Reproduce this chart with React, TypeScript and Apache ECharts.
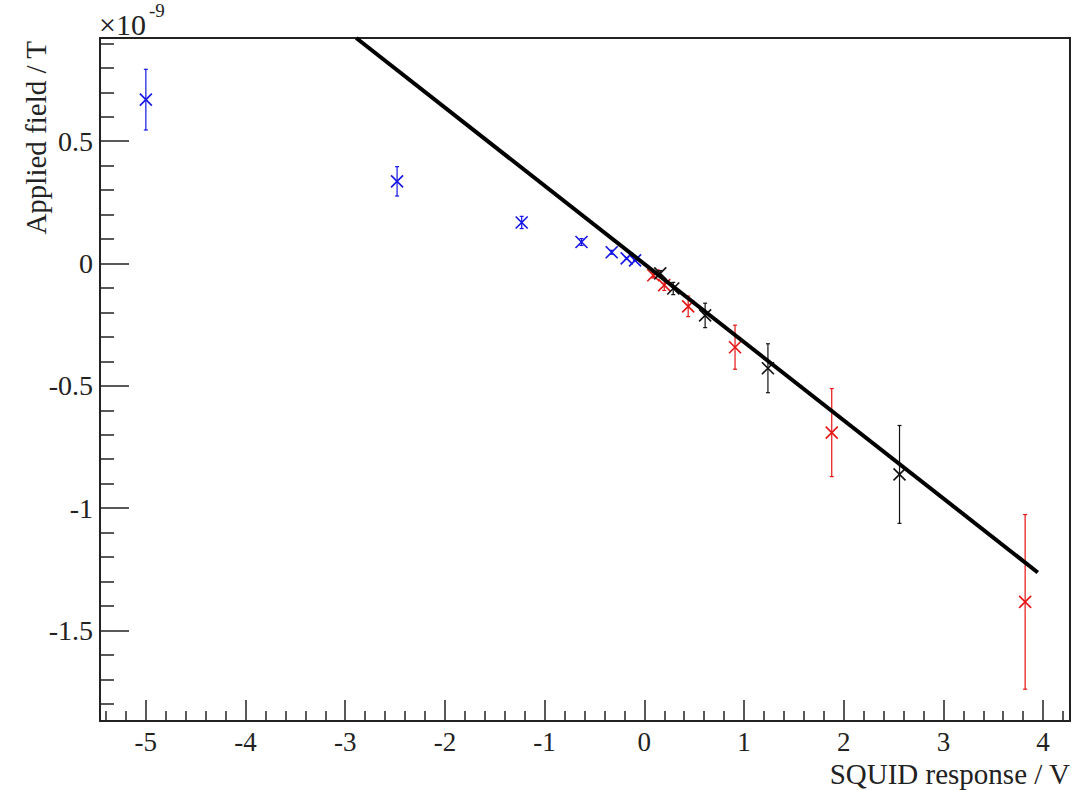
import React, { useEffect, useRef } from "react";
import * as echarts from "echarts";

// Values in units of 1e-9 T (y) and V (x)
const blueX = [-5.0, -2.48, -1.23, -0.63, -0.327, -0.177, -0.093];
const blueY = [0.67, 0.336, 0.168, 0.088, 0.046, 0.021, 0.013];
const blueErr = [0.124, 0.06, 0.025, 0.014, 0.008, 0.004, 0.002];

const redX = [0.09, 0.2, 0.44, 0.91, 1.88, 3.82];
const redY = [-0.048, -0.088, -0.175, -0.342, -0.691, -1.383];
const redErr = [0.011, 0.022, 0.042, 0.09, 0.18, 0.357];

const blackX = [0.16, 0.29, 0.61, 1.24, 2.56];
const blackY = [-0.04, -0.102, -0.212, -0.428, -0.862];
const blackErr = [0.011, 0.025, 0.05, 0.1, 0.2];

const fitX = [-2.89, 3.947];
const fitY = [0.922, -1.263];

const xMin = -5.46;
const xMax = 4.27;
const yMin = -1.87;
const yMax = 0.922;

const FONT = "Liberation Serif";

function makeErrSeries(name: string, xs: number[], ys: number[], es: number[], color: string) {
  return {
    name,
    type: "custom",
    data: xs.map((x, i) => [x, ys[i], es[i]]),
    clip: true,
    renderItem: (params: any, api: any) => {
      const x = api.value(0);
      const y = api.value(1);
      const e = api.value(2);
      const c = api.coord([x, y]);
      const t = api.coord([x, y + e]);
      const b = api.coord([x, y - e]);
      const s = 6;
      const cap = 2;
      const lineStyle = { stroke: color, lineWidth: 1.2 };
      const mStyle = { stroke: color, lineWidth: 1.6 };
      return {
        type: "group",
        children: [
          { type: "line", shape: { x1: t[0], y1: t[1], x2: b[0], y2: b[1] }, style: lineStyle },
          { type: "line", shape: { x1: t[0] - cap, y1: t[1], x2: t[0] + cap, y2: t[1] }, style: lineStyle },
          { type: "line", shape: { x1: b[0] - cap, y1: b[1], x2: b[0] + cap, y2: b[1] }, style: lineStyle },
          { type: "line", shape: { x1: c[0] - s, y1: c[1] - s, x2: c[0] + s, y2: c[1] + s }, style: mStyle },
          { type: "line", shape: { x1: c[0] - s, y1: c[1] + s, x2: c[0] + s, y2: c[1] - s }, style: mStyle },
        ],
      };
    },
  };
}

export default function App() {
  const ref = useRef<HTMLDivElement>(null);
  useEffect(() => {
    if (!ref.current) return;
    const chart = echarts.init(ref.current, null, { renderer: "svg" });
    const axisColor = "#222";
    chart.setOption({
      animation: false,
      backgroundColor: "#fff",
      grid: {
        left: 100,
        right: 8,
        top: 38,
        bottom: 69,
        show: true,
        borderColor: axisColor,
        borderWidth: 2,
        containLabel: false,
      },
      xAxis: {
        type: "value",
        min: xMin,
        max: xMax,
        splitNumber: 10,
        splitLine: { show: false },
        axisLine: { show: true, onZero: false, lineStyle: { color: axisColor, width: 2 } },
        axisTick: { show: true, inside: true, length: 21, lineStyle: { color: axisColor, width: 1.5 } },
        minorTick: { show: true, splitNumber: 5, length: 10, lineStyle: { color: axisColor, width: 1.5 } },
        axisLabel: {
          fontFamily: FONT,
          fontSize: 27,
          lineHeight: 27,
          color: "#222",
          margin: 7,
          showMinLabel: false,
          showMaxLabel: false,
        },
      },
      yAxis: {
        type: "value",
        min: yMin,
        max: yMax,
        splitNumber: 5,
        splitLine: { show: false },
        axisLine: { show: true, onZero: false, lineStyle: { color: axisColor, width: 2 } },
        axisTick: { show: true, inside: true, length: 29, lineStyle: { color: axisColor, width: 1.5 } },
        minorTick: { show: true, splitNumber: 5, length: 14, lineStyle: { color: axisColor, width: 1.5 } },
        axisLabel: {
          fontFamily: FONT,
          fontSize: 28,
          color: "#222",
          margin: 7,
          showMinLabel: false,
          showMaxLabel: false,
        },
      },
      series: [
        {
          name: "fit",
          type: "line",
          data: fitX.map((x, i) => [x, fitY[i]]),
          showSymbol: false,
          symbol: "none",
          clip: true,
          lineStyle: { color: "#000", width: 4 },
          z: 3,
        },
        makeErrSeries("blue", blueX, blueY, blueErr, "#1414e6"),
        makeErrSeries("red", redX, redY, redErr, "#e61414"),
        makeErrSeries("black", blackX, blackY, blackErr, "#111"),
      ],
      graphic: [
        {
          type: "text",
          x: 36,
          y: 41,
          rotation: Math.PI / 2,
          style: {
            text: "Applied field / T",
            font: `29px ${FONT}`,
            fill: "#222",
            textAlign: "right",
            textVerticalAlign: "middle",
          },
        },
        {
          type: "text",
          x: 1070,
          y: 774,
          style: {
            text: "SQUID response / V",
            font: `29px ${FONT}`,
            fill: "#222",
            textAlign: "right",
            textVerticalAlign: "middle",
          },
        },
        {
          type: "text",
          x: 99,
          y: 24,
          style: {
            text: "×10",
            font: `30px ${FONT}`,
            fill: "#222",
            textAlign: "left",
            textVerticalAlign: "middle",
          },
        },
        {
          type: "text",
          x: 149,
          y: 10,
          style: {
            text: "-9",
            font: `19px ${FONT}`,
            fill: "#222",
            textAlign: "left",
            textVerticalAlign: "middle",
          },
        },
      ],
    });
    return () => chart.dispose();
  }, []);
  return (
    <div
      ref={ref}
      style={{ position: "fixed", left: 0, top: 0, width: 1078, height: 790 }}
    />
  );
}
